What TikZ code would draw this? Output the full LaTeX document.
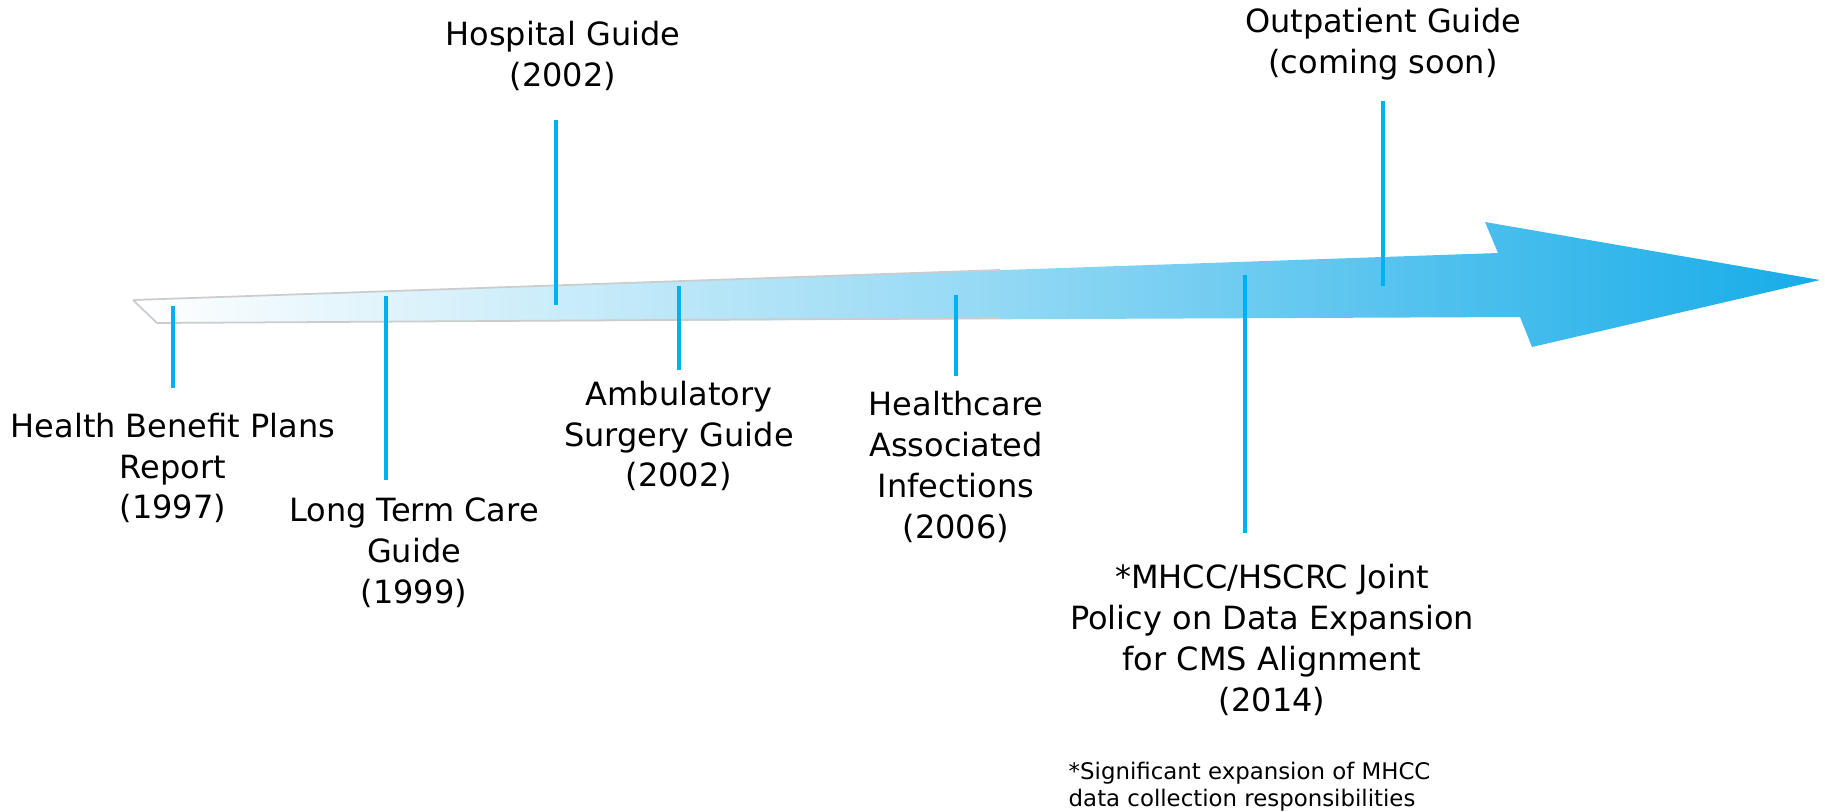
\documentclass[tikz,border=0pt]{standalone}
\usepackage{fontspec}
\setmainfont{DejaVu Sans}
\definecolor{arrowblue}{RGB}{22,172,232}
\definecolor{tick}{RGB}{0,176,240}
\begin{document}
\begin{tikzpicture}[x=0.01cm,y=-0.01cm,
  lbl/.style={align=center,inner sep=0pt,font=\fontsize{9.1}{11.6}\selectfont,text=black},
  note/.style={align=left,inner sep=0pt,font=\fontsize{6.5}{7.7}\selectfont,text=black},
  tickline/.style={draw=tick,line width=1pt},
  edge/.style={draw=black!20,line width=0.5pt}]
\useasboundingbox (0,0) rectangle (1825,811);
% arrow
\shade[left color=white,right color=arrowblue,middle color=arrowblue!45]
  (133,300) -- (1498,253) -- (1485,222) -- (1820,280) -- (1532,347) -- (1520,317) -- (157,323) -- cycle;
\draw[edge] (133,300) -- (157,323);
\draw[edge] (133,300) -- (1000,270);
\draw[edge] (157,323) -- (1000,318);
% labels
\node[lbl] (hbp) at (173,468) {Health Benefit Plans\\Report\\(1997)};
\node[lbl] (ltc) at (414,553) {Long Term Care\\Guide\\(1999)};
\node[lbl] (hosp) at (563,56) {Hospital Guide\\(2002)};
\node[lbl] (amb) at (679,436) {Ambulatory\\Surgery Guide\\(2002)};
\node[lbl] (hai) at (956,467) {Healthcare\\Associated\\Infections\\(2006)};
\node[lbl] (mhcc) at (1272,640) {*MHCC/HSCRC Joint\\Policy on Data Expansion\\for CMS Alignment\\(2014)};
\node[lbl] (outp) at (1383,44) {Outpatient Guide\\(coming soon)};
\node[note,anchor=west] (foot) at (1068,787) {*Significant expansion of MHCC\\data collection responsibilities};
% tick lines
\coordinate (t1a) at (173,306); \coordinate (t1b) at (173,388);
\coordinate (t2a) at (386,296); \coordinate (t2b) at (386,480);
\coordinate (t3a) at (556,120); \coordinate (t3b) at (556,305);
\coordinate (t4a) at (679,286); \coordinate (t4b) at (679,370);
\coordinate (t5a) at (956,295); \coordinate (t5b) at (956,376);
\coordinate (t6a) at (1245,275); \coordinate (t6b) at (1245,533);
\coordinate (t7a) at (1383,101); \coordinate (t7b) at (1383,286);
\foreach \i in {1,...,7} {\draw[tickline] (t\i a) -- (t\i b);}
\end{tikzpicture}
\end{document}
